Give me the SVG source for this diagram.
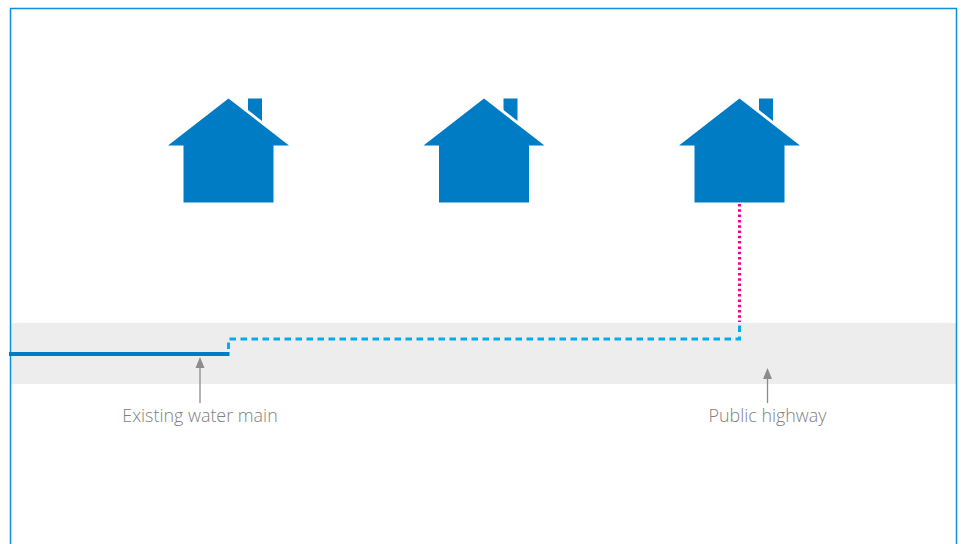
<svg xmlns="http://www.w3.org/2000/svg" width="963" height="544" viewBox="0 0 963 544">
<style>
.house{fill:#007cc5}
.lbl{font-family:"Open Sans","Noto Sans","Liberation Sans",sans-serif;font-size:17.900px;font-weight:300;fill:#808080;text-anchor:middle}
.lead{stroke:#8c8c8c;stroke-width:1.3;fill:none}
.head{fill:#8c8c8c}
</style>
<defs>
<path id="h" d="M228.500 98.500L289 145.500H273.500V202.500H183.500V145.500H168ZM248 98.500H262V121L248 110Z"/>
</defs>
<rect width="963" height="544" fill="#fff"/>
<rect x="11" y="323" width="945" height="61" fill="#ededed"/>
<path d="M10.500 544V8.500H956.500V544" fill="none" stroke="#0a8fd8" stroke-width="1.500"/>
<g id="house-1" class="house"><use href="#h"/></g>
<g id="house-2" class="house"><use href="#h" x="255.500"/></g>
<g id="house-3" class="house"><use href="#h" x="511"/></g>
<g id="connectors">
<path d="M9 354H229.500" fill="none" stroke="#007cc5" stroke-width="4"/>
<path d="M228.500 349V339H739.500V323" fill="none" stroke="#00aeef" stroke-width="3" stroke-dasharray="6.500 4.500"/>
<path d="M739.500 204V322" fill="none" stroke="#ec008c" stroke-width="3" stroke-dasharray="2.500 2.800"/>
<path class="lead" d="M200 403V366"/>
<path class="head" d="M200 357L204.500 368H195.500Z"/>
<path class="lead" d="M767.500 403V377"/>
<path class="head" d="M767.500 368L772 379H763Z"/>
</g>
<text class="lbl" x="200" y="422">Existing water main</text>
<text class="lbl" x="767.500" y="422">Public highway</text>
</svg>
